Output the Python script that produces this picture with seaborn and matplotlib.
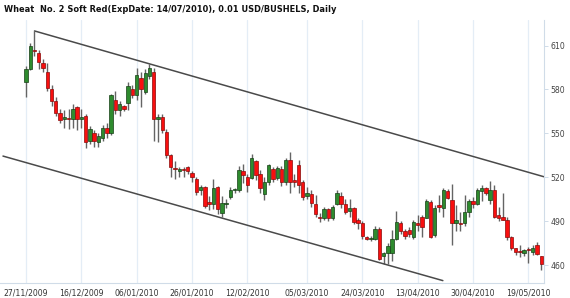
import numpy as np
import pandas as pd
import matplotlib
matplotlib.use("Agg")
import matplotlib.pyplot as plt
import seaborn as sns

# ---------------- data ----------------
title = "Wheat  No. 2 Soft Red(ExpDate: 14/07/2010), 0.01 USD/BUSHELS, Daily"
holidays = ["2009-12-25", "2010-01-01", "2010-01-18", "2010-02-15", "2010-04-02"]
dates = pd.bdate_range("2009-11-27", "2010-05-24", freq="C", holidays=holidays)

opens = [585, 594, 607, 605, 598, 592, 580, 572, 564, 559.5,
         560.5, 560, 568, 560, 562, 545, 550, 544, 547, 554,
         550, 573, 566, 568.5, 570.5, 580, 576, 588, 578.5, 589,
         592, 559.5, 561.5, 551, 535, 526, 524.5, 525.5, 527, 523,
         519, 511.5, 513.5, 503, 501.5, 513.5, 495.5, 501.5, 506.5, 511,
         511, 524, 520.5, 519.5, 531, 522.5, 508.5, 516.5, 525.5, 519.5,
         526, 516.5, 532, 518, 528.5, 516.5, 507.5, 508.5, 501.5, 493,
         492, 498, 492.5, 501.5, 507, 502, 497, 499, 490.5, 489,
         479, 478, 478, 485, 466, 468, 468, 478, 488.5, 483,
         484, 479.5, 488.5, 493, 492.5, 503, 480.5, 501, 499, 510.5,
         504.5, 489, 489, 488.5, 496, 503.5, 502, 510.5, 512.5, 504.5,
         511.5, 494, 493, 491, 479, 471.5, 469.5, 468.5, 470.5, 469,
         474, 466]
highs = [596, 612, 620, 607, 601, 598, 583, 575, 567, 566,
         567, 570, 568.5, 567, 563, 555, 552, 550, 556, 557,
         577, 579, 572, 569.5, 585, 583, 595, 592, 594, 597.5,
         595, 563, 563, 553, 536, 531, 527, 527, 528, 524,
         520, 515, 514, 507, 519, 514, 507, 505, 513.5, 513,
         528, 529, 522.5, 536, 532, 525, 520.5, 529, 527, 528,
         528, 533, 537, 522.5, 532, 518, 513.5, 511, 508, 495.5,
         500, 499, 501, 511.5, 510, 505.5, 505, 500, 492.5, 490,
         480, 480, 486.5, 486, 469, 475, 484, 497, 490, 485,
         486, 491, 494, 494, 505.5, 504.5, 501, 508, 512.5, 512,
         515.5, 501, 496.5, 508, 505.5, 506.5, 513, 514.5, 513.5, 517.5,
         514.5, 500, 509, 493, 480, 472, 473.5, 471, 472.5, 474,
         476, 466.5]
lows = [575, 593, 603, 594, 592, 579, 569, 562, 557, 554,
        553, 554, 552, 554, 540, 543, 541, 541, 545, 547,
        549, 563, 562, 565, 566, 574, 573, 568, 577, 587,
        545, 544, 550, 533, 520, 519, 520, 520, 522, 517,
        508, 508, 499, 497.5, 498, 495, 493, 499, 505, 509,
        510, 516, 510, 519, 518, 509, 504.5, 515, 517, 518,
        514, 515, 509, 513.5, 509, 504.5, 505.5, 500, 493, 489.5,
        491, 490, 491, 501, 499, 495, 493, 488, 485, 478,
        477, 476.5, 477, 463.5, 461, 461, 463, 477, 481, 478,
        479, 478, 483, 479.5, 492, 478.5, 479.5, 496.5, 493, 505.5,
        474, 483, 483, 487, 493, 499, 501, 503.5, 508, 502,
        492, 490, 490.5, 477, 470, 467, 465.5, 466, 461.5, 467,
        467, 456.5]
closes = [594, 610, 606, 599, 595, 581, 572, 564, 559, 561,
          560, 567, 560, 561.5, 544, 553, 545, 548, 554, 550,
          576, 566, 570, 566.5, 582.5, 576, 590, 580, 591, 595,
          560, 561, 552, 535, 527, 525.5, 525.5, 525, 524, 520,
          510, 513.5, 500.5, 502, 513, 498, 502.5, 502, 511.5, 511.5,
          525, 521.5, 514.5, 533, 521.5, 513, 517, 528.5, 518.5, 526.5,
          516.5, 532, 516.5, 517, 514.5, 506.5, 509, 502.5, 495, 492,
          498, 492.5, 500, 509.5, 502, 496.5, 499, 489.5, 489, 480,
          478, 478.5, 485, 464.5, 468.5, 473, 478, 489.5, 483, 480,
          481, 489.5, 487.5, 486, 503.5, 479.5, 499, 499.5, 511.5, 506,
          488.5, 491, 488, 496, 503.5, 502, 511.5, 513, 509, 511.5,
          493, 492.5, 491, 479, 471.5, 469, 469, 470, 470, 472,
          467.5, 461]

tick_dates = ["27/11/2009", "16/12/2009", "06/01/2010", "26/01/2010", "12/02/2010",
              "05/03/2010", "24/03/2010", "13/04/2010", "30/04/2010", "19/05/2010"]
y_ticks = [460, 490, 520, 550, 580, 610]

# channel lines (index, price)
upper_line_x = [2, 121.6]
upper_line_y = [620, 520.4]
lower_line_x = [-5.4, 97.9]
lower_line_y = [534.5, 449.4]

# ---------------- build ----------------
n = len(opens)
df = pd.DataFrame({"idx": np.arange(n), "open": opens, "high": highs,
                   "low": lows, "close": closes})
df["date"] = dates[:n]
df["up"] = df["close"] >= df["open"]

sns.set_style("white")
plt.rcParams["font.family"] = ["DejaVu Sans"]

fig = plt.figure(figsize=(5.70, 2.98), dpi=100)
ax = fig.add_axes([0.0, 0.050, 0.954, 0.883])

grid_col = "#e4edf6"
date_strs = [d.strftime("%d/%m/%Y") for d in df["date"]]
tick_pos = [date_strs.index(t) for t in tick_dates]
for p in tick_pos:
    ax.axvline(p, color=grid_col, lw=0.9, zorder=0)

# wicks
ax.vlines(df["idx"], df["low"], df["high"], color="#646464", lw=1.0, zorder=2)

# bodies
green_face, green_edge = "#2e8b2e", "#173f17"
red_face, red_edge = "#f80f0f", "#8a0a0a"
body_bottom = np.minimum(df["open"], df["close"])
body_h = np.maximum(np.abs(df["close"] - df["open"]), 0.7)
faces = np.where(df["up"], green_face, red_face)
edges = np.where(df["up"], green_edge, red_edge)
ax.bar(df["idx"], body_h, bottom=body_bottom, width=0.8,
       color=faces, edgecolor=edges, linewidth=0.5, zorder=3)

# trend channel
up_df = pd.DataFrame({"x": upper_line_x, "y": upper_line_y})
lo_df = pd.DataFrame({"x": lower_line_x, "y": lower_line_y})
sns.lineplot(data=up_df, x="x", y="y", ax=ax, color="#4a4a4a", lw=1.1, zorder=4)
sns.lineplot(data=lo_df, x="x", y="y", ax=ax, color="#4a4a4a", lw=1.1, zorder=4)

ax.set_xlim(-6.1, 121.6)
ax.set_ylim(447.7, 627.5)

ax.set_xticks(tick_pos)
ax.set_xticklabels(tick_dates, fontsize=5.6, color="#333333")
ax.yaxis.tick_right()
ax.set_yticks(y_ticks)
ax.set_yticklabels([str(v) for v in y_ticks], fontsize=5.6, color="#444444")
ax.tick_params(axis="x", length=0, pad=4)
ax.tick_params(axis="y", length=3, width=0.6, color="#c8d6e4", pad=2)
ax.set_xlabel("")
ax.set_ylabel("")

for side in ["top", "left"]:
    ax.spines[side].set_visible(False)
for side in ["right", "bottom"]:
    ax.spines[side].set_color("#d0dce8")
    ax.spines[side].set_linewidth(0.8)

fig.text(4 / 570, 1 - 9 / 298, title, fontsize=5.95, fontweight="bold",
         color="#111111", ha="left", va="center")

fig.savefig("out.png", dpi=100)
